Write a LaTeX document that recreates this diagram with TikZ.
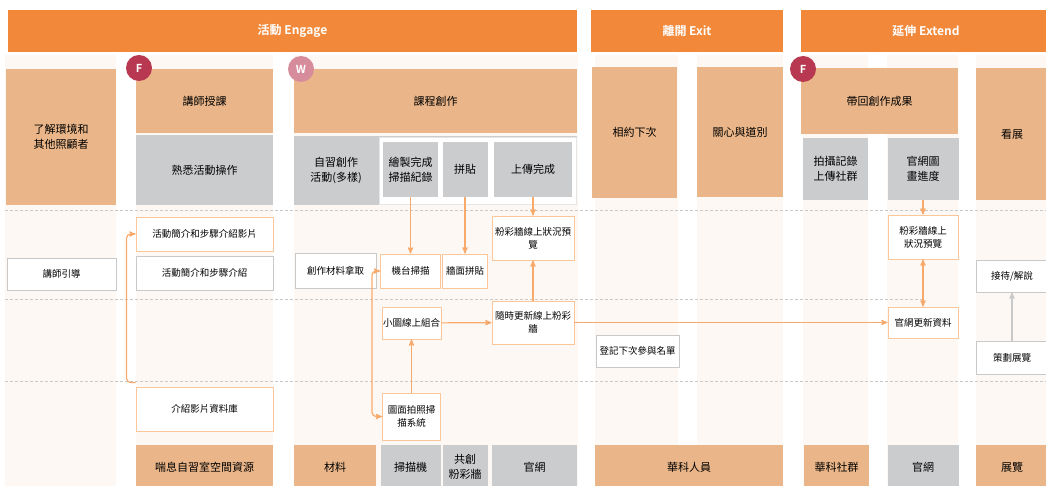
\documentclass[tikz,border=0pt]{standalone}
\usepackage{fontspec}
\setmainfont{Noto Sans CJK TC}[BoldFont={Noto Sans CJK TC Bold}]
\usetikzlibrary{arrows}
\definecolor{phaseor}{HTML}{F2893A}
\definecolor{stageor}{HTML}{EAB689}
\definecolor{touchgr}{HTML}{CBCCCE}
\definecolor{laneor}{HTML}{FEF8F4}
\definecolor{lineor}{HTML}{F8AA6C}
\definecolor{edgeor}{HTML}{F9C79A}
\definecolor{edgegr}{HTML}{C9C9C9}
\definecolor{badgef}{HTML}{B73850}
\definecolor{badgew}{HTML}{D68C9B}

\begin{document}
\begin{tikzpicture}[x=1pt,y=-1pt,>=stealth',semithick,
    sz/.style 2 args={minimum width=#1pt,minimum height=#2pt},
    box/.style={inner sep=1pt,align=center,text=black,font=\fontsize{9.5}{13}\selectfont},
    phase/.style={box,fill=phaseor,text=white,font=\fontsize{12}{14}\selectfont\bfseries},
    stage/.style={box,fill=stageor,font=\fontsize{11}{15}\selectfont},
    touch/.style={box,fill=touchgr,font=\fontsize{11}{15}\selectfont},
    act/.style={box,fill=white,draw=edgeor,line width=.9pt},
    plain/.style={box,fill=white,draw=edgegr,line width=.9pt},
    badge/.style={circle,minimum size=26pt,inner sep=0pt,text=white,font=\fontsize{11}{11}\selectfont\bfseries},
    link/.style={->,draw=lineor,line width=1.2pt},
    sep/.style={draw=edgegr,line width=.8pt,dash pattern=on 3pt off 2pt}]
\useasboundingbox (0,0) rectangle (1046,486);

% lanes and separators
\foreach \xa/\xb in {5/116,136/273,294/578,595/678,697/783,803/868,887/958,976/1046}
    \fill[laneor] (\xa,55) rectangle (\xb,486);
\draw[sep] (5,210) -- (1046,210);
\draw[sep] (5,299) -- (925,299);
\draw[sep] (5,381) -- (1046,381);

% phases
\node[phase, sz={569}{42}] (engage) at (292.5,31) {活動 Engage};
\node[phase, sz={192}{42}] (exit) at (687,31) {離開 Exit};
\node[phase, sz={250}{42}] (extend) at (926,31) {延伸 Extend};

% stages
\node[stage, sz={110}{136}] (env) at (61,137) {了解環境和\\其他照顧者};
\node[stage, sz={137}{64}] (lecture) at (204.5,101) {講師授課};
\node[touch, sz={137}{70}] (familiar) at (204.5,170) {熟悉活動操作};
\node[stage, sz={283}{64}] (course) at (435.5,101) {課程創作};
\node[touch, sz={283}{69}] (panel) at (435.5,170.5) {};
\node[box, font=\fontsize{11}{15}\selectfont] (self) at (336,170) {自習創作\\活動(多樣)};
\node[box, fill=white, draw=white!90!black, sz={197}{67}] (inner) at (477.5,170.5) {};
\node[touch, sz={55}{55}] (drawn) at (410.5,169.5) {繪製完成\\掃描紀錄};
\node[touch, sz={45}{55}] (paste) at (465,169.5) {拼貼};
\node[touch, sz={78}{55}] (upload) at (533,169.5) {上傳完成};
\node[stage, sz={85}{131}] (date) at (634.5,132.5) {相約下次};
\node[stage, sz={86}{130}] (care) at (740,132) {關心與道別};
\node[stage, sz={157}{66}] (bring) at (879.5,101) {帶回創作成果};
\node[touch, sz={65}{62}] (photo) at (835.5,169) {拍攝記錄\\上傳社群};
\node[touch, sz={71}{62}] (webprog) at (923,169) {官網圖\\畫進度};
\node[stage, sz={72}{132}] (see) at (1012,134) {看展};

\node[badge, fill=badgef] (f1) at (139,68) {F};
\node[badge, fill=badgew] (w1) at (301,69) {W};
\node[badge, fill=badgef] (f2) at (803,69) {F};

% actions
\node[plain, sz={109}{32}] (guide) at (61.5,274) {講師引導};
\node[act, sz={137}{34}] (video) at (204.5,234) {活動簡介和步驟介紹影片};
\node[plain, sz={137}{34}] (intro) at (204.5,273) {活動簡介和步驟介紹};
\node[plain, sz={81}{35}] (take) at (335.5,270.5) {創作材料拿取};
\node[act, sz={60}{34}] (scan) at (410.5,271) {機台掃描};
\node[act, sz={45}{34}] (wall) at (465,271) {牆面拼貼};
\node[act, sz={82}{44}] (preview) at (533,238) {粉彩牆線上狀況預\\覽};
\node[act, sz={70}{44}] (preview2) at (923,237) {粉彩牆線上\\狀況預覽};
\node[plain, sz={72}{32}] (receive) at (1012,276) {接待/解說};
\node[act, sz={59}{32}] (combine) at (411.5,323) {小圖線上組合};
\node[act, sz={82}{43}] (update) at (533,322.5) {隨時更新線上粉彩\\牆};
\node[act, sz={70}{31}] (webupd) at (923,322.5) {官網更新資料};
\node[plain, sz={83}{32}] (register) at (637.5,351) {登記下次參與名單};
\node[plain, sz={72}{33}] (curate) at (1012,357.5) {策劃展覽};
\node[act, sz={137}{44}] (library) at (204.5,409) {介紹影片資料庫};
\node[act, sz={58}{47}] (camera) at (411.5,416.5) {圖面拍照掃\\描系統};

% supports
\node[stage, sz={137}{44}] (respite) at (204.5,467) {喘息自習室空間資源};
\node[stage, sz={82}{44}] (material) at (335,467) {材料};
\node[touch, sz={60}{44}] (scanner) at (410.5,467) {掃描機};
\node[touch, sz={45}{44}] (cowall) at (465,467) {共創\\粉彩牆};
\node[touch, sz={85}{44}] (web) at (534.5,467) {官網};
\node[stage, sz={188}{44}] (staff) at (689,467) {華科人員};
\node[stage, sz={65}{44}] (group) at (836.5,467) {華科社群};
\node[touch, sz={71}{44}] (web2) at (923,467) {官網};
\node[stage, sz={72}{44}] (expo) at (1012,467) {展覽};

\path[link]
    (drawn) edge (scan)
    (paste) edge (wall)
    (upload) edge (preview)
    (update) edge (preview)
    (camera) edge (combine)
    (combine) edge (update)
    (update) edge (webupd)
    (webprog) edge (preview2)
    (webupd) edge[<->] (preview2)
    ;
\draw[link, draw=edgegr] (curate) -- (receive);
\draw[link, <->, rounded corners=4pt] (camera.west) -| ([xshift=-8pt]scan.west) -- (scan.west);
\draw[link, rounded corners=4pt] ([yshift=4pt]library.north west) -| ([xshift=-9pt]video.west) -- (video.west);

\end{tikzpicture}
\end{document}
